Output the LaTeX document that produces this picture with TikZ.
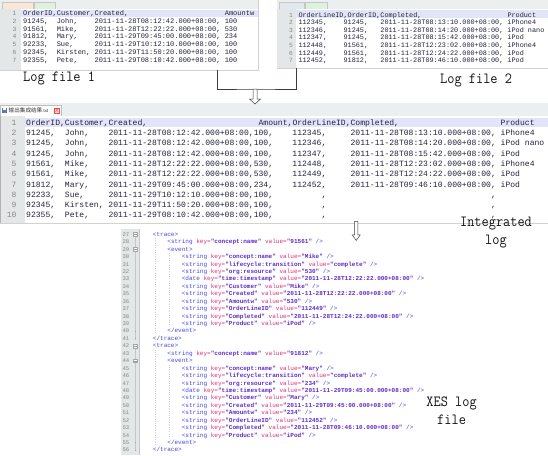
\documentclass[tikz,border=0pt]{standalone}
\usepackage{fontspec}
\usepackage{graphicx}
\newfontfamily\codefont{Liberation Mono}
\newfontfamily\cjkfont{Noto Sans CJK SC}
\usetikzlibrary{calc}
\definecolor{codetext}{RGB}{35,35,60}
\definecolor{lnum}{RGB}{135,135,135}
\definecolor{gutterc}{RGB}{228,231,231}
\definecolor{hiline}{RGB}{226,229,250}
\definecolor{tabbar}{RGB}{236,239,239}
\definecolor{tabpink}{RGB}{250,232,215}
\definecolor{tabgreen}{RGB}{222,240,222}
\definecolor{tabblue}{RGB}{225,232,240}
\definecolor{diskblue}{RGB}{90,120,190}
\definecolor{xtagc}{RGB}{70,70,225}
\definecolor{xattc}{RGB}{215,50,120}
\definecolor{xvalc}{RGB}{95,45,200}
\definecolor{labelc}{RGB}{20,20,20}
\definecolor{connc}{RGB}{60,60,60}
% column helper: field padded to #1 character cells
\newcommand\cc[2]{\makebox[#1\dimexpr .6em\relax][l]{#2}}
% xml syntax helpers
\newcommand\xtag[1]{\textcolor{xtagc}{#1}}
\newcommand\xatt[1]{\textcolor{xattc}{#1}}
\newcommand\xval[1]{\textcolor{xvalc}{\bfseries #1}}
\newcommand\xs[2]{\xtag{<string} \xatt{key=}\xval{"#1"} \xatt{value=}\xval{"#2"} \xtag{/>}}
\newcommand\xd[2]{\xtag{<date} \xatt{key=}\xval{"#1"} \xatt{value=}\xval{"#2"} \xtag{/>}}
\newcommand\lbl[1]{\scalebox{0.9}[1]{#1}}
% rows
\newcommand\rowA[2]{\pgfmathsetmacro\yb{13.3+7.8*(#1-1)+2.1}%
  \node[lnA, anchor=base east] (an#1) at (16.7,\yb) {#1};
  \node[codeA, anchor=base west] (a#1) at (23,\yb) {#2};}
\newcommand\rowB[2]{\pgfmathsetmacro\yb{15+7.6*(#1-1)+2.05}%
  \node[lnA, anchor=base east] (bn#1) at (293,\yb) {#1};
  \node[codeB, anchor=base west] (b#1) at (298.3,\yb) {#2};}
\newcommand\rowC[2]{\pgfmathsetmacro\yb{122.7+10.3*(#1-1)+2.5}%
  \node[lnC, anchor=base east] (cn#1) at (16.7,\yb) {#1};
  \node[codeC, anchor=base west] (c#1) at (26,\yb) {#2};}
\newcommand\xl[3]{\pgfmathsetmacro\yb{234.4+7.43*(#1-27)+2}%
  \node[lnX, anchor=base east] (xn#1) at (129.5,\yb) {#1};
  \node[xml, anchor=base west] (x#1) at ({152.7+14.48*#2},\yb) {#3};}
\newcommand\foldbox[1]{\pgfmathsetmacro\yf{234.4+7.43*(#1-27)}%
  \draw[gray!70, fill=white, line width=0.3pt] (133.6,\yf-1.9) rectangle (137.4,\yf+1.9);
  \draw[gray!80, line width=0.3pt] (134.3,\yf) -- (136.7,\yf);}
\newcommand\foldend[1]{\pgfmathsetmacro\yf{234.4+7.43*(#1-27)}%
  \draw[gray!70, line width=0.3pt] (134.6,\yf) -- (136.4,\yf);}
\newcommand\harrow[5]{%
  \draw[hollowarrow] ($(#1)+(-#3,0)$) -- ($(#1)+(-#3,{#2-#5})$) -- ($(#1)+(-#4,{#2-#5})$)
    -- ($(#1)+(0,#2)$) -- ($(#1)+(#4,{#2-#5})$) -- ($(#1)+(#3,{#2-#5})$) -- ($(#1)+(#3,0)$) -- cycle;}
\begin{document}
\begin{tikzpicture}[x=1pt,y=-1pt,
  panel/.style={anchor=north west, inner sep=0, draw=gray!35, line width=0.4pt, fill=white},
  codebase/.style={inner sep=0, text=codetext},
  codeA/.style={codebase, font=\codefont\fontsize{7}{8}\selectfont},
  codeB/.style={codebase, font=\codefont\fontsize{6.83}{8}\selectfont},
  codeC/.style={codebase, font=\codefont\fontsize{8.07}{9}\selectfont},
  xml/.style={inner sep=0, font=\codefont\fontsize{6.03}{7}\selectfont},
  lnA/.style={inner sep=0, text=lnum, font=\codefont\fontsize{6.3}{7}\selectfont},
  lnC/.style={inner sep=0, text=lnum, font=\codefont\fontsize{8}{9}\selectfont},
  lnX/.style={inner sep=0, text=lnum, font=\codefont\fontsize{5.6}{6}\selectfont},
  biglabel/.style={inner sep=0, text=labelc, align=center, font=\ttfamily\fontsize{15.5}{17.5}\selectfont},
  conn/.style={draw=connc, line width=0.6pt},
  hollowarrow/.style={draw=connc, line width=0.5pt, fill=white},
  guide/.style={draw=gray!40, line width=0.3pt, dotted}]
\useasboundingbox (0,0) rectangle (548,455);
\fill[white] (0,0) rectangle (548,455);

% ---------------- Log file 1 ----------------
\node[panel, minimum width=258pt, minimum height=70pt] (log1) at (0,0) {};
\fill[tabbar] (0.2,0.2) rectangle (257.8,9);
\draw[gray!45, line width=0.3pt, fill=tabpink] (2,9) -- (2,1.8) -- (33,1.8) -- (33,9);
\draw[gray!45, line width=0.3pt, fill=tabgreen] (34,9) -- (34,1.8) -- (55,1.8) -- (55,9);
\fill[gutterc] (0.2,9) rectangle (20.5,69.8);
\fill[hiline] (20.5,9.6) rectangle (257.8,17);
\rowA{1}{\cc{48}{OrderID,Customer,Created,}Amountw}
\rowA{2}{\cc{8}{91245,}\cc{9}{John,}\cc{31}{2011-11-28T08:12:42.000+08:00,}100}
\rowA{3}{\cc{8}{91561,}\cc{9}{Mike,}\cc{31}{2011-11-28T12:22:22.000+08:00,}530}
\rowA{4}{\cc{8}{91812,}\cc{9}{Mary,}\cc{31}{2011-11-29T09:45:00.000+08:00,}234}
\rowA{5}{\cc{8}{92233,}\cc{9}{Sue,}\cc{31}{2011-11-29T10:12:10.000+08:00,}100}
\rowA{6}{\cc{8}{92345,}\cc{9}{Kirsten,}\cc{31}{2011-11-29T11:50:20.000+08:00,}100}
\rowA{7}{\cc{8}{92355,}\cc{9}{Pete,}\cc{31}{2011-11-29T08:10:42.000+08:00,}100}
\node[biglabel, anchor=base west] (lab1) at (23,81) {\lbl{Log file 1}};

% ---------------- Log file 2 ----------------
\node[panel, minimum width=271pt, minimum height=68pt] (log2) at (277,0) {};
\fill[tabbar] (277.2,0.2) rectangle (547.8,9);
\draw[gray!45, line width=0.3pt, fill=tabblue] (279,9) -- (279,1.8) -- (304,1.8) -- (304,9);
\draw[gray!45, line width=0.3pt, fill=tabgreen] (305,9) -- (305,1.8) -- (327,1.8) -- (327,9);
\fill[gutterc] (277.2,9) rectangle (295.7,67.8);
\fill[hiline] (295.7,10.2) rectangle (547.8,17.6);
\rowB{1}{\cc{51}{OrderLineID,OrderID,Completed,}Product}
\rowB{2}{\cc{11}{112345,}\cc{9}{91245,}\cc{31}{2011-11-28T08:13:10.000+08:00,}iPhone4}
\rowB{3}{\cc{11}{112346,}\cc{9}{91245,}\cc{31}{2011-11-28T08:14:20.000+08:00,}iPod nano}
\rowB{4}{\cc{11}{112347,}\cc{9}{91245,}\cc{31}{2011-11-28T08:15:42.000+08:00,}iPod}
\rowB{5}{\cc{11}{112448,}\cc{9}{91561,}\cc{31}{2011-11-28T12:23:02.000+08:00,}iPhone4}
\rowB{6}{\cc{11}{112449,}\cc{9}{91561,}\cc{31}{2011-11-28T12:24:22.000+08:00,}iPod}
\rowB{7}{\cc{11}{112452,}\cc{9}{91812,}\cc{31}{2011-11-28T09:46:10.000+08:00,}iPod}
\node[biglabel, anchor=base west] (lab2) at (440,83.3) {\lbl{Log file 2}};

% ---------------- Integrated log ----------------
\node[panel, minimum width=548pt, minimum height=120pt] (integ) at (0,103) {};
\fill[tabbar] (0.2,103.2) rectangle (547.8,116);
\draw[gray!50, line width=0.3pt, fill=white] (0.5,116) -- (0.5,105) -- (61,105) -- (61,116);
\fill[diskblue] (2,107.5) rectangle (7,113);
\fill[white] (3,108.3) rectangle (6,110.2);
\node[inner sep=0, anchor=west, text=black!80] (tabtxt) at (8.5,110.6)
  {\cjkfont\fontsize{5.6}{6}\selectfont 输出集成结果\fontsize{4.2}{5}\selectfont.txt};
\draw[red!75, line width=0.3pt, fill=red!10] (54.5,107.8) rectangle (59,112.8);
\draw[red!75, line width=0.3pt] (55.3,108.6) -- (58.2,112) (55.3,112) -- (58.2,108.6);
\fill[gutterc] (0.2,116) rectangle (25,222.8);
\draw[gray!60, line width=0.5pt] (0.4,116) -- (0.4,222.8);
\fill[hiline] (25,118.2) rectangle (547.8,127.4);
\rowC{1}{\cc{48}{OrderID,Customer,Created,}\cc{50}{Amount,OrderLineID,Completed,}Product}
\rowC{2}{\cc{8}{91245,}\cc{9}{John,}\cc{30}{2011-11-28T08:12:42.000+08:00,}\cc{8}{100,}\cc{12}{112345,}\cc{31}{2011-11-28T08:13:10.000+08:00,}iPhone4}
\rowC{3}{\cc{8}{91245,}\cc{9}{John,}\cc{30}{2011-11-28T08:12:42.000+08:00,}\cc{8}{100,}\cc{12}{112346,}\cc{31}{2011-11-28T08:14:20.000+08:00,}iPod nano}
\rowC{4}{\cc{8}{91245,}\cc{9}{John,}\cc{30}{2011-11-28T08:12:42.000+08:00,}\cc{8}{100,}\cc{12}{112347,}\cc{31}{2011-11-28T08:15:42.000+08:00,}iPod}
\rowC{5}{\cc{8}{91561,}\cc{9}{Mike,}\cc{30}{2011-11-28T12:22:22.000+08:00,}\cc{8}{530,}\cc{12}{112448,}\cc{31}{2011-11-28T12:23:02.000+08:00,}iPhone4}
\rowC{6}{\cc{8}{91561,}\cc{9}{Mike,}\cc{30}{2011-11-28T12:22:22.000+08:00,}\cc{8}{530,}\cc{12}{112449,}\cc{31}{2011-11-28T12:24:22.000+08:00,}iPod}
\rowC{7}{\cc{8}{91812,}\cc{9}{Mary,}\cc{30}{2011-11-29T09:45:00.000+08:00,}\cc{8}{234,}\cc{12}{112452,}\cc{31}{2011-11-28T09:46:10.000+08:00,}iPod}
\rowC{8}{\cc{8}{92233,}\cc{9}{Sue,}\cc{30}{2011-11-29T10:12:10.000+08:00,}\cc{14}{100,}\cc{35}{,},}
\rowC{9}{\cc{8}{92345,}\cc{9}{Kirsten,}\cc{30}{2011-11-29T11:50:20.000+08:00,}\cc{14}{100,}\cc{35}{,},}
\rowC{10}{\cc{8}{92355,}\cc{9}{Pete,}\cc{30}{2011-11-29T08:10:42.000+08:00,}\cc{14}{100,}\cc{35}{,},}
\node[biglabel, anchor=base] (lab3) at (496,244) {\lbl{Integrated}\\\lbl{log}};

% ---------------- XES log ----------------
\node[anchor=north west, inner sep=0, minimum width=428pt, minimum height=226pt] (xes) at (120,229) {};
\fill[gutterc] (120.5,229) rectangle (138.6,455);
\draw[gray!45, line width=0.3pt] (139,229) -- (139,455);
\draw[gray!45, line width=0.3pt] (135.5,236.4) -- (135.5,339.5);
\draw[gray!45, line width=0.3pt] (135.5,347.8) -- (135.5,450);
\draw[guide] (155,238) -- (155,334);
\draw[guide] (169.5,253) -- (169.5,326.5);
\draw[guide] (155,349.5) -- (155,445.5);
\draw[guide] (169.5,364.5) -- (169.5,438);
\foldbox{27}\foldbox{29}\foldbox{42}\foldbox{44}
\foldend{40}\foldend{41}\foldend{55}\foldend{56}
\xl{27}{0}{\xtag{<trace>}}
\xl{28}{1}{\xs{concept:name}{91561}}
\xl{29}{1}{\xtag{<event>}}
\xl{30}{2}{\xs{concept:name}{Mike}}
\xl{31}{2}{\xs{lifecycle:transition}{complete}}
\xl{32}{2}{\xs{org:resource}{530}}
\xl{33}{2}{\xd{time:timestamp}{2011-11-28T12:22:22.000+08:00}}
\xl{34}{2}{\xs{Customer}{Mike}}
\xl{35}{2}{\xs{Created}{2011-11-28T12:22:22.000+08:00}}
\xl{36}{2}{\xs{Amountw}{530}}
\xl{37}{2}{\xs{OrderLineID}{112449}}
\xl{38}{2}{\xs{Completed}{2011-11-28T12:24:22.000+08:00}}
\xl{39}{2}{\xs{Product}{iPod}}
\xl{40}{1}{\xtag{</event>}}
\xl{41}{0}{\xtag{</trace>}}
\xl{42}{0}{\xtag{<trace>}}
\xl{43}{1}{\xs{concept:name}{91812}}
\xl{44}{1}{\xtag{<event>}}
\xl{45}{2}{\xs{concept:name}{Mary}}
\xl{46}{2}{\xs{lifecycle:transition}{complete}}
\xl{47}{2}{\xs{org:resource}{234}}
\xl{48}{2}{\xd{time:timestamp}{2011-11-29T09:45:00.000+08:00}}
\xl{49}{2}{\xs{Customer}{Mary}}
\xl{50}{2}{\xs{Created}{2011-11-29T09:45:00.000+08:00}}
\xl{51}{2}{\xs{Amountw}{234}}
\xl{52}{2}{\xs{OrderLineID}{112452}}
\xl{53}{2}{\xs{Completed}{2011-11-28T09:46:10.000+08:00}}
\xl{54}{2}{\xs{Product}{iPod}}
\xl{55}{1}{\xtag{</event>}}
\xl{56}{0}{\xtag{</trace>}}
\node[biglabel, anchor=base] (lab4) at (451.6,424) {\lbl{XES log}\\\lbl{file}};

% ---------------- connectors ----------------
\coordinate (j) at (255,89);
\draw[conn] ([xshift=88pt]log1.south) |- (j) -| ([xshift=-116.5pt]log2.south);
\harrow{j}{15}{2}{5.5}{5}
\coordinate (k) at ($(integ.south)+(82,-2)$);
\harrow{k}{19}{1.7}{4}{5.5}
\end{tikzpicture}
\end{document}
